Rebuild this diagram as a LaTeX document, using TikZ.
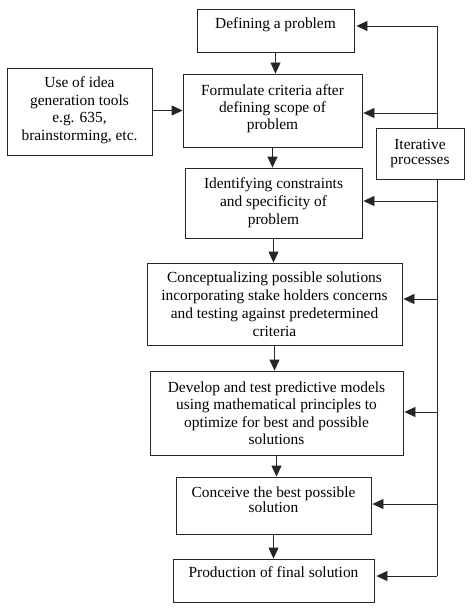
\documentclass[tikz,border=0pt]{standalone}
\usepackage{fontspec}
\setmainfont{Liberation Serif}
\usetikzlibrary{arrows.meta}
\newcommand\bxt[4]{\parbox[c][#1][#2]{#3}{\centering\fontsize{15.4}{18}\selectfont #4\par}}
\begin{document}
\begin{tikzpicture}[x=1pt,y=-1pt,
  box/.style={draw=black!85, line width=0.8pt, inner sep=0pt, fill=white},
  arr/.style={draw=black!85, line width=0.8pt, -{Triangle[length=11pt,width=10pt]}},
  ln/.style={draw=black!85, line width=0.8pt}]
\useasboundingbox (0,0) rectangle (473,615);
\node[box] (b1) at (275.5,30.5) {\bxt{43pt}{t}{157pt}{\vspace*{9pt}Defining a problem}};
\node[box] (b2) at (272.5,110.5) {\bxt{73pt}{c}{179pt}{\fontsize{15.4}{17}\selectfont Formulate criteria after\\ defining scope of\\ problem\vspace*{4pt}}};
\node[box] (lb) at (79.5,111.5) {\bxt{87pt}{c}{145pt}{\fontsize{15.4}{17.5}\selectfont Use of idea\\ generation tools\\ e.g. 635,\\ brainstorming, etc.\vspace*{3pt}}};
\node[box] (it) at (420,153.5) {\bxt{51pt}{c}{88pt}{\fontsize{15.4}{15}\selectfont Iterative\\ processes}};
\node[box] (b3) at (273.5,203) {\bxt{70pt}{c}{177pt}{Identifying constraints\\ and specificity of\\ problem}};
\node[box] (b4) at (274.5,304) {\bxt{82pt}{c}{255pt}{Conceptualizing possible solutions\\ incorporating stake holders concerns\\ and testing against predetermined\\ criteria}};
\node[box] (b5) at (276.5,413) {\bxt{84pt}{c}{253pt}{\fontsize{15.4}{17.5}\selectfont Develop and test predictive models\\ using mathematical principles to\\ optimize for best and possible\\ solutions}};
\node[box] (b6) at (273.5,505.5) {\bxt{57pt}{t}{195pt}{\vspace*{10pt}\fontsize{15.4}{15}\selectfont Conceive the best possible\\ solution}};
\node[box] (b7) at (273.5,580.5) {\bxt{43pt}{t}{201pt}{\vspace*{8pt}Production of final solution}};
% vertical flow
\draw[arr] (b1.south) -- (b1.south |- b2.north);
\draw[arr] (b2.south) -- (b2.south |- b3.north);
\draw[arr] (b3.south) -- (b3.south |- b4.north);
\draw[arr] (b4.south) -- (b4.south |- b5.north);
\draw[arr] (b5.south) -- (b5.south |- b6.north);
\draw[arr] (b6.south) -- (b6.south |- b7.north);
\draw[arr] (lb.east |- b2.west) -- (b2.west);
% feedback line
\coordinate (r1) at (437,26);
\coordinate (r2) at (437,113);
\coordinate (r3) at (437,201);
\coordinate (r4) at (437,299);
\coordinate (r5) at (437,412);
\coordinate (r6) at (437,504);
\coordinate (r7) at (437,576);
\draw[ln] (r1) -- (r1 |- it.north);
\draw[ln] (r7 |- it.south) -- (r7);
\draw[arr, shorten >=2pt] (r1) -- (r1 -| b1.east);
\draw[arr, shorten >=1pt] (r2) -- (r2 -| b2.east);
\draw[arr, shorten >=1pt] (r3) -- (r3 -| b3.east);
\draw[arr, shorten >=1pt] (r4) -- (r4 -| b4.east);
\draw[arr, shorten >=1pt] (r5) -- (r5 -| b5.east);
\draw[arr, shorten >=1pt] (r6) -- (r6 -| b6.east);
\draw[arr, shorten >=2pt] (r7) -- (r7 -| b7.east);
\end{tikzpicture}
\end{document}
